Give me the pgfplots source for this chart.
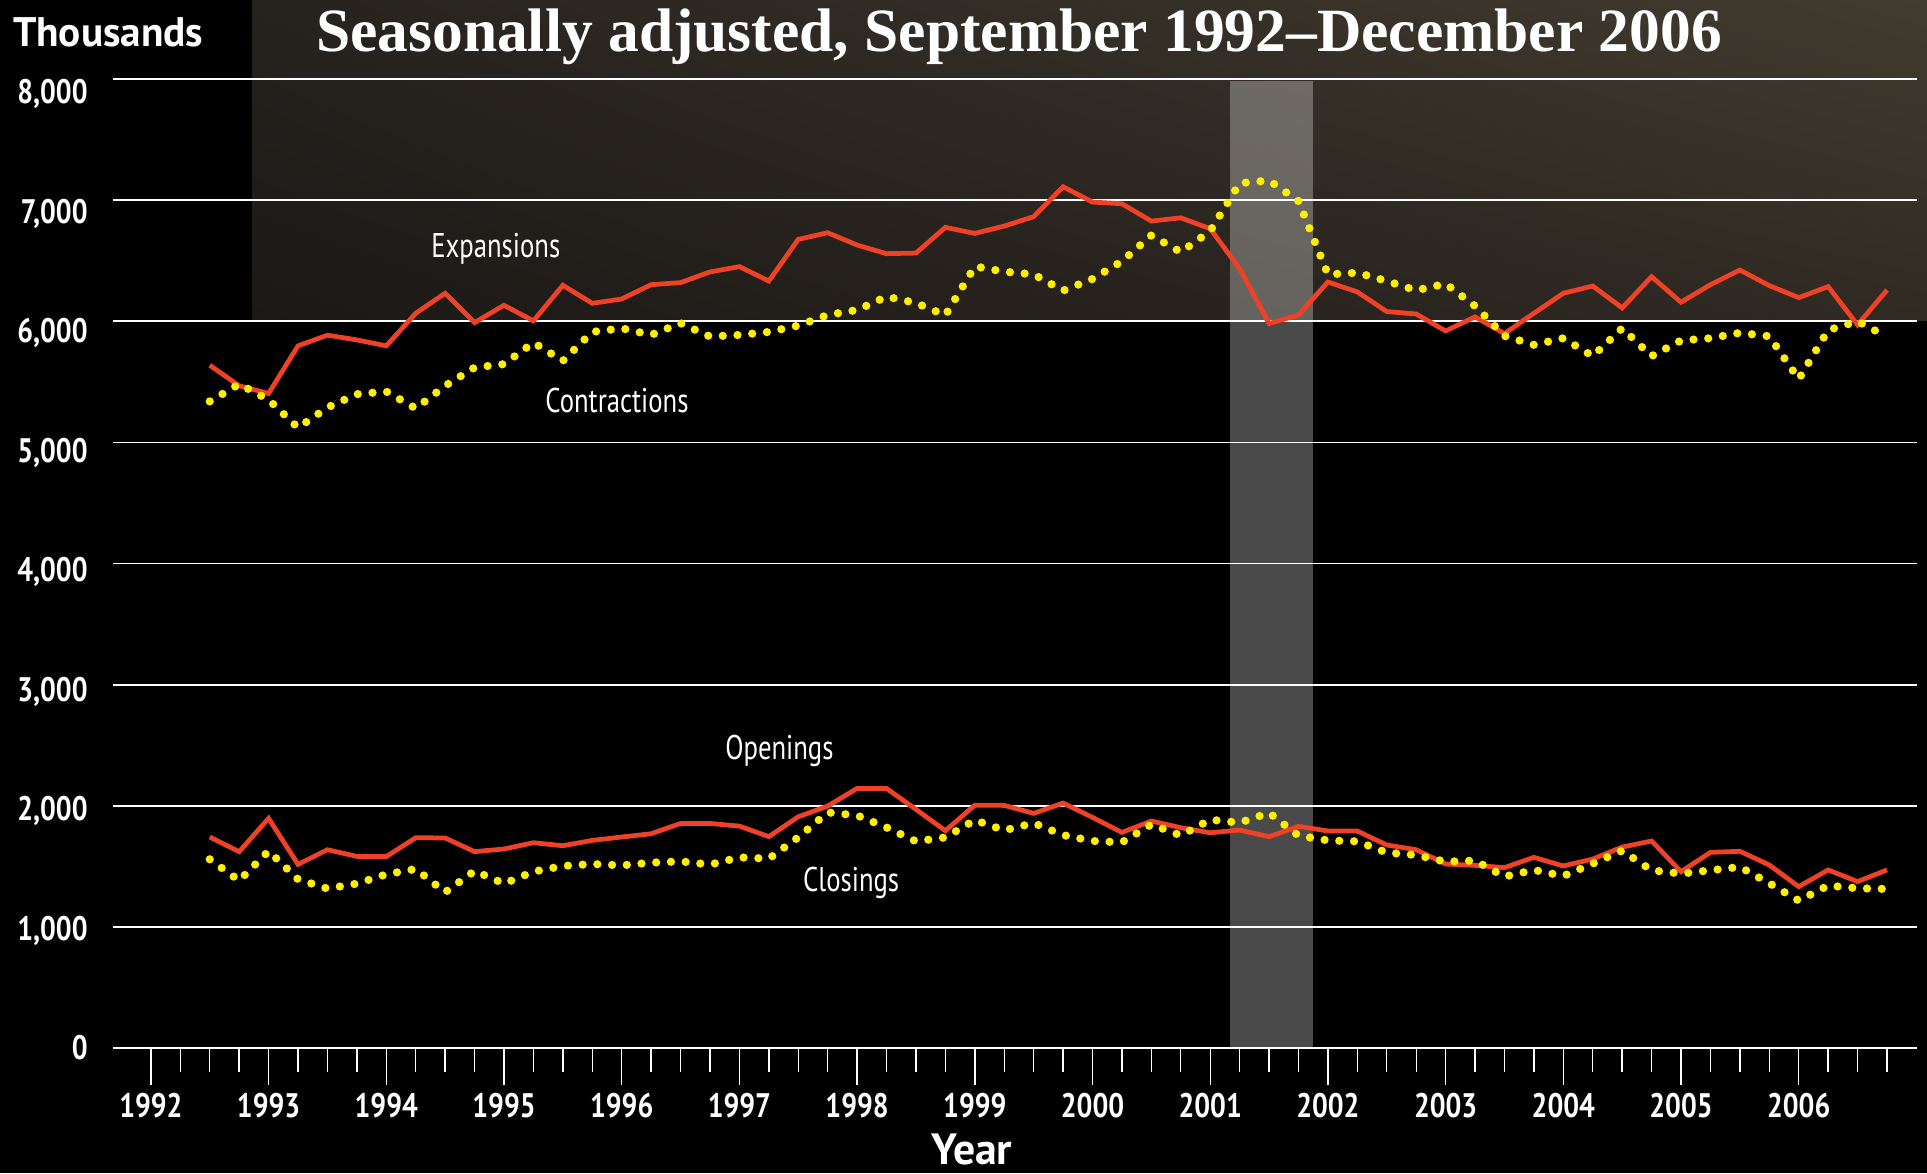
\documentclass[border=0pt]{standalone}
\usepackage{pgfplots}
\usepackage{pgfplotstable}
\pgfplotsset{compat=1.18}
\usetikzlibrary{shadings}
\usepackage{fontspec}
\setmainfont{PT Sans}
\newfontfamily\cond[FakeStretch=0.82]{PT Sans}
\newfontfamily\condreg[FakeStretch=0.78]{PT Sans}
\newfontfamily\titlefont{Liberation Serif}
\definecolor{expred}{HTML}{EE4125}
\definecolor{conyel}{HTML}{FFEE00}
\definecolor{bgUL}{RGB}{38,34,30}
\definecolor{bgUR}{RGB}{66,59,47}
\definecolor{bgLL}{RGB}{27,24,22}
\definecolor{bgLR}{RGB}{48,42,35}

\pgfplotstableread{
x E C O L
1992.50 5637 5338 1742 1558
1992.75 5467 5481 1621 1382
1993.00 5404 5352 1896 1626
1993.25 5797 5121 1516 1393
1993.50 5885 5288 1637 1316
1993.75 5846 5398 1582 1357
1994.00 5797 5420 1580 1434
1994.25 6066 5280 1736 1478
1994.50 6231 5467 1734 1286
1994.75 5989 5618 1621 1462
1995.00 6132 5646 1643 1357
1995.25 6003 5824 1695 1456
1995.50 6297 5673 1670 1503
1995.75 6148 5912 1714 1519
1996.00 6184 5942 1742 1508
1996.25 6302 5887 1769 1530
1996.50 6319 5984 1854 1541
1996.75 6407 5874 1854 1514
1997.00 6451 5887 1832 1574
1997.25 6332 5912 1745 1563
1997.50 6676 5964 1909 1739
1997.75 6731 6052 1997 1945
1998.00 6629 6093 2143 1920
1998.25 6558 6203 2143 1821
1998.50 6563 6151 1970 1706
1998.75 6775 6049 1794 1739
1999.00 6725 6453 2005 1882
1999.25 6786 6409 2003 1797
1999.50 6863 6387 1937 1857
1999.75 7110 6253 2022 1758
2000.00 6984 6349 1904 1709
2000.25 6970 6495 1780 1698
2000.50 6827 6709 1874 1846
2000.75 6854 6571 1819 1755
2001.00 6764 6745 1777 1885
2001.25 6434 7140 1799 1860
2001.50 5981 7162 1745 1942
2001.75 6052 6992 1830 1753
2002.00 6324 6387 1792 1714
2002.25 6242 6401 1791 1706
2002.50 6080 6332 1676 1613
2002.75 6060 6255 1637 1593
2003.00 5920 6310 1519 1538
2003.25 6036 6126 1508 1547
2003.50 5898 5879 1489 1415
2003.75 6066 5805 1574 1470
2004.00 6231 5860 1503 1420
2004.25 6291 5712 1560 1522
2004.50 6110 5942 1659 1629
2004.75 6368 5712 1709 1467
2005.00 6157 5841 1456 1440
2005.25 6302 5860 1615 1467
2005.50 6423 5904 1624 1495
2005.75 6294 5876 1511 1360
2006.00 6195 5522 1332 1217
2006.25 6286 5926 1470 1341
2006.50 5970 6000 1374 1319
2006.75 6258 5871 1470 1313
}\data

\begin{document}
\begin{tikzpicture}
\fill[black] (0,0) rectangle (770.8pt,469.2pt);
\shade[upper left=bgUL, upper right=bgUR, lower left=bgLL, lower right=bgLR]
  (100.8pt,340.8pt) rectangle (770.8pt,469.2pt);
\begin{axis}[
  at={(45.2pt,50pt)}, anchor=south west,
  scale only axis, width=721.6pt, height=387.6pt,
  xmin=1991.678, xmax=2007.005, ymin=0, ymax=8000,
  clip=false,
  axis line style={draw=none},
  ymajorgrids, grid style={white, line width=0.7pt},
  ytick={0,1000,2000,3000,4000,5000,6000,7000,8000},
  yticklabels={\raisebox{0pt}{0},\raisebox{-0.65pt}{1{,}000},\raisebox{-1.3pt}{2{,}000},\raisebox{-1.95pt}{3{,}000},\raisebox{-2.6pt}{4{,}000},\raisebox{-3.25pt}{5{,}000},\raisebox{-3.9pt}{6{,}000},\raisebox{-4.55pt}{7{,}000},\raisebox{-5.2pt}{8{,}000}},
  ytick style={draw=none},
  yticklabel style={font=\cond\bfseries\fontsize{13.6}{14}\selectfont, text=white, anchor=base east, inner sep=0pt, xshift=4.8pt, yshift=-4.75pt},
  xtick={1992,1993,1994,1995,1996,1997,1998,1999,2000,2001,2002,2003,2004,2005,2006},
  xticklabels={1992,1993,1994,1995,1996,1997,1998,1999,2000,2001,2002,2003,2004,2005,2006},
  minor xtick={1992.25,1992.5,1992.75,1993.25,1993.5,1993.75,1994.25,1994.5,1994.75,1995.25,1995.5,1995.75,1996.25,1996.5,1996.75,1997.25,1997.5,1997.75,1998.25,1998.5,1998.75,1999.25,1999.5,1999.75,2000.25,2000.5,2000.75,2001.25,2001.5,2001.75,2002.25,2002.5,2002.75,2003.25,2003.5,2003.75,2004.25,2004.5,2004.75,2005.25,2005.5,2005.75,2006.25,2006.5,2006.75},
  xtick pos=lower,
  tick align=outside,
  major tick length=14.8pt, minor tick length=9.6pt,
  xtick style={white, line width=0.55pt},
  minor x tick style={white, line width=0.55pt},
  xticklabel style={font=\cond\bfseries\fontsize{13.6}{14}\selectfont, text=white, anchor=north, inner sep=0pt, yshift=-3.2pt},
]
\fill[white, opacity=0.29] (axis cs:2001.167,0) rectangle (axis cs:2001.875,7985);
\addplot[expred, line width=1.9pt, mark=none] table[x=x, y=E] {\data};
\addplot[conyel, line width=3.3pt, line cap=round, dash pattern=on 0pt off 5.9pt, mark=none] table[x=x, y=C] {\data};
\addplot[expred, line width=1.9pt, mark=none] table[x=x, y=O] {\data};
\addplot[conyel, line width=3.3pt, line cap=round, dash pattern=on 0pt off 5.9pt, mark=none] table[x=x, y=L] {\data};
\node[font=\condreg\fontsize{13.7}{14}\selectfont, text=white, anchor=base, inner sep=0pt] at (axis cs:1994.93,6529) {Expansions};
\node[font=\condreg\fontsize{13.7}{14}\selectfont, text=white, anchor=base, inner sep=0pt] at (axis cs:1995.96,5250) {Contractions};
\node[font=\condreg\fontsize{13.7}{14}\selectfont, text=white, anchor=base, inner sep=0pt] at (axis cs:1997.34,2385) {Openings};
\node[font=\condreg\fontsize{13.7}{14}\selectfont, text=white, anchor=base, inner sep=0pt] at (axis cs:1997.95,1288) {Closings};
\end{axis}
\node[anchor=base, inner sep=0pt, text=white, font=\titlefont\bfseries\fontsize{24.6}{28}\selectfont] at (407.6pt,448.5pt) {Seasonally adjusted, September 1992–December 2006};
\node[anchor=base west, inner sep=0pt, text=white, font=\bfseries\fontsize{16.5}{18}\selectfont] at (5pt,450.5pt) {Thousands};
\node[anchor=base, inner sep=0pt, text=white, font=\bfseries\fontsize{17.5}{20}\selectfont] at (388.8pt,3.5pt) {Year};
\pgfresetboundingbox
\useasboundingbox (0,0) rectangle (770.8pt,469.2pt);
\end{tikzpicture}
\end{document}
